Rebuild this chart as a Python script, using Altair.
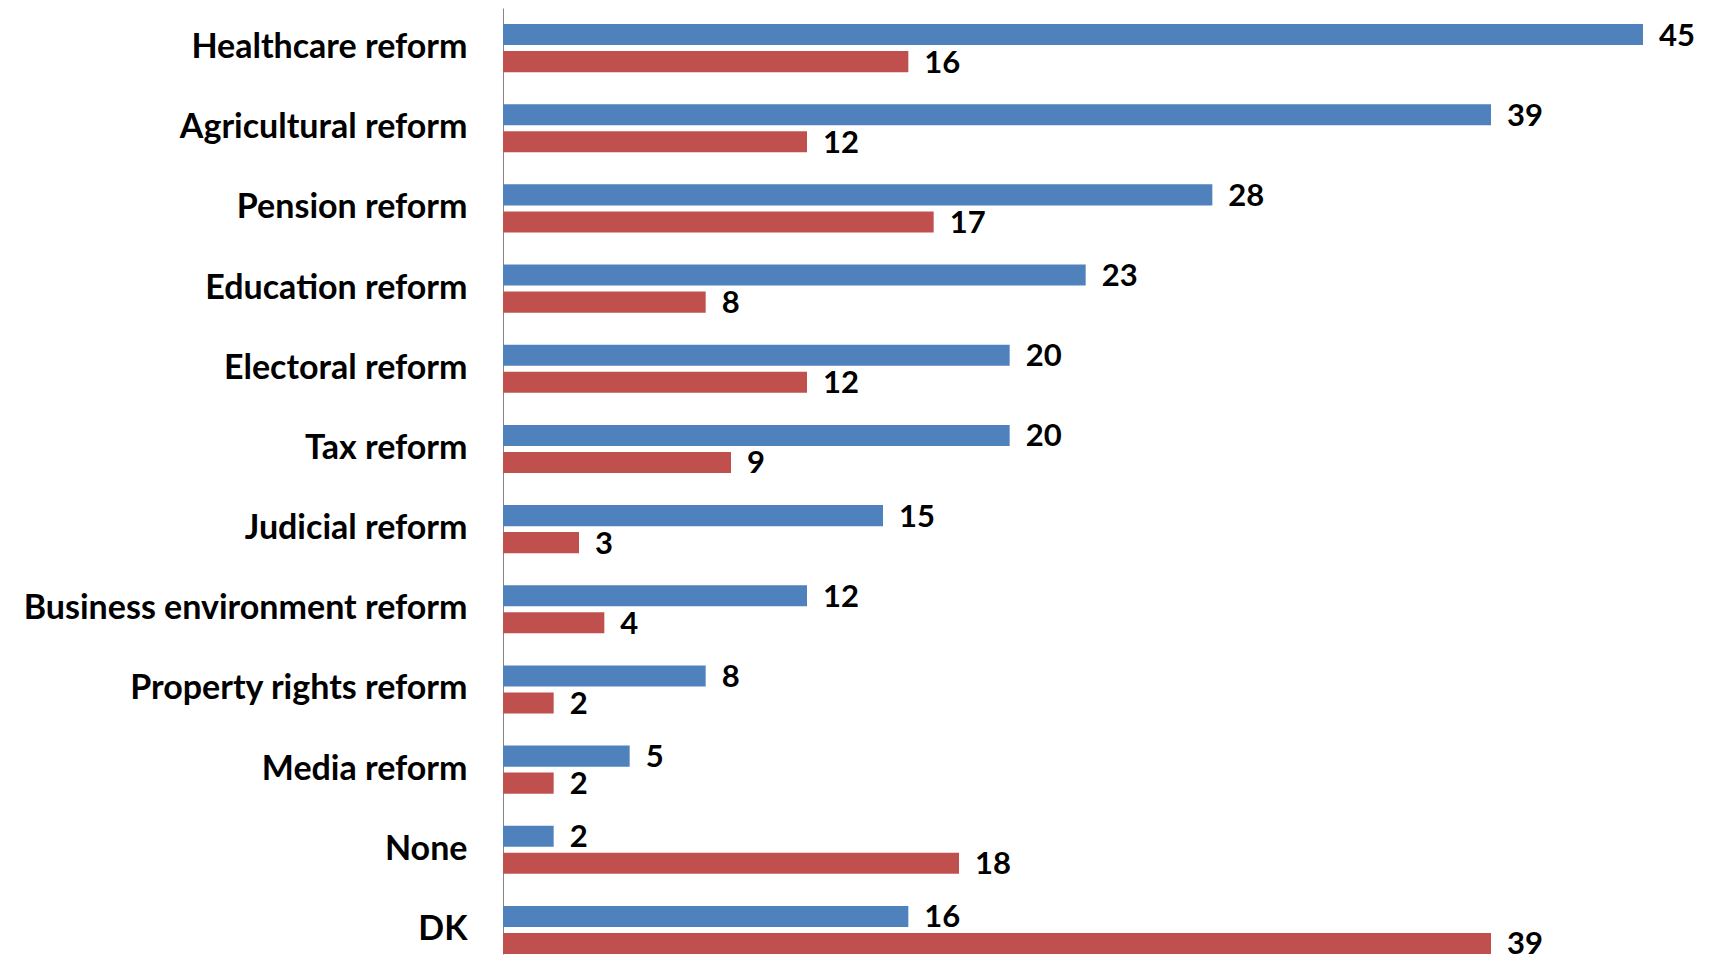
import altair as alt
import pandas as pd

categories = [
    "Healthcare reform", "Agricultural reform\u2002", "Pension reform", "Education reform",
    "Electoral reform", "Tax reform", "Judicial reform", "Business environment reform",
    "Property rights reform", "Media reform", "None", "DK",
]
series_names = ["Series 1", "Series 2"]
blue_values = [45, 39, 28, 23, 20, 20, 15, 12, 8, 5, 2, 16]
red_values = [16, 12, 17, 8, 12, 9, 3, 4, 2, 2, 18, 39]

rows = []
for c, b, r in zip(categories, blue_values, red_values):
    rows.append({"category": c, "series": series_names[0], "value": b})
    rows.append({"category": c, "series": series_names[1], "value": r})
df = pd.DataFrame(rows)

FONT = "Lato"

y_enc = alt.Y(
    "category:N",
    sort=categories,
    scale=alt.Scale(paddingInner=0.4, paddingOuter=0.1, align=1),
    axis=alt.Axis(
        title=None, ticks=False, domain=True, domainColor="#868686", domainWidth=1,
        labelFont=FONT, labelFontSize=34, labelFontWeight="bold", labelColor="#000000",
        labelPadding=36, labelLimit=700, grid=False,
    ),
)
yoff_enc = alt.YOffset(
    "series:N", sort=series_names,
    scale=alt.Scale(paddingInner=0.22, paddingOuter=0),
)
x_enc = alt.X("value:Q", scale=alt.Scale(domain=[0, 45], nice=False, zero=True), axis=None)
color_enc = alt.Color(
    "series:N",
    scale=alt.Scale(domain=series_names, range=["#4F81BD", "#C0504D"]),
    legend=None,
)

base = alt.Chart(df)
bars = base.mark_bar().encode(y=y_enc, yOffset=yoff_enc, x=x_enc, color=color_enc)
labels = base.mark_text(
    align="left", baseline="middle", dx=16, dy=2,
    font=FONT, fontSize=31, fontWeight="bold", color="#000000",
).encode(y=y_enc, yOffset=yoff_enc, x=x_enc, text=alt.Text("value:Q"))

chart = (
    alt.layer(bars, labels)
    .properties(
        width=1140, height=946,
        background="#ffffff",
        autosize=alt.AutoSizeParams(type="none"),
        padding={"left": 495, "top": 0, "right": 62, "bottom": 10},
    )
    .configure_view(strokeWidth=0, stroke="transparent")
)

chart.save("out.html", embed_options={"renderer": "svg", "actions": False})
